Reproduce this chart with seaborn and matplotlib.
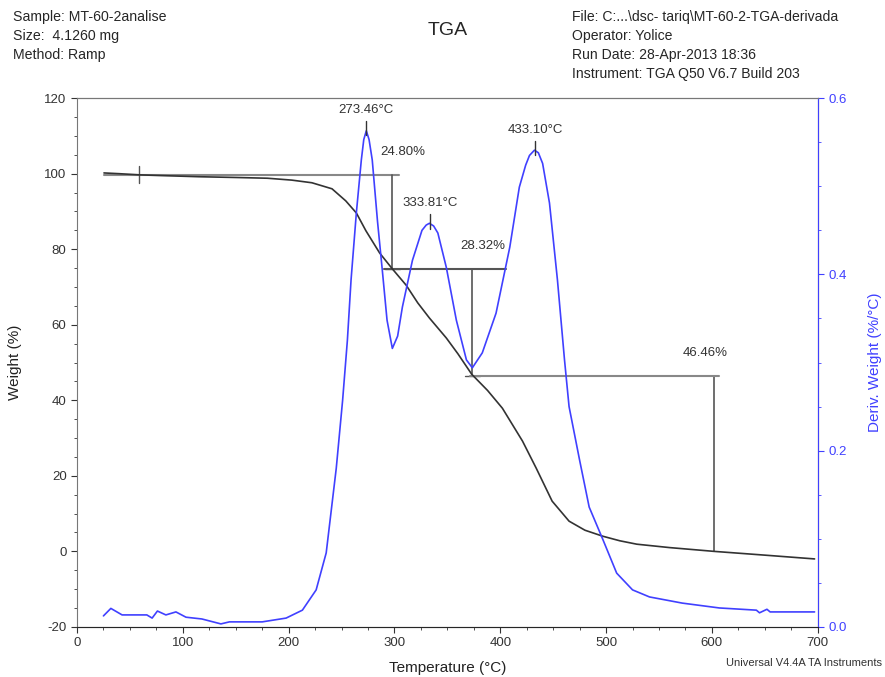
import numpy as np
import pandas as pd
import seaborn as sns
import matplotlib.pyplot as plt
from matplotlib.ticker import MultipleLocator, FormatStrFormatter

# Weight curve
temp_w = [25.5, 40, 58.6, 80, 115, 150, 180, 203, 222, 241, 254, 264, 273, 286,
          298, 311, 322, 333, 349, 360, 373, 388, 402, 421, 434, 449, 465, 480,
          497, 513, 529, 560, 602, 650, 697]
weight = [100.2, 100.0, 99.7, 99.5, 99.2, 99.0, 98.8, 98.3, 97.6, 96.0, 92.8, 89.6,
          84.9, 79.0, 74.8, 70.5, 65.8, 61.8, 56.5, 52.3, 46.9, 42.6, 37.9, 29.2,
          22.0, 13.3, 8.0, 5.6, 4.0, 2.8, 1.9, 1.0, 0.0, -1.0, -2.0]

# Derivative curve
temp_d = [25, 32, 42.6, 56, 66, 71, 76, 84, 93.5, 103, 118, 136, 144, 175, 197.6,
          213, 226, 235.5, 245, 251, 255.5, 259, 264, 268.7, 271, 273.4, 276, 279,
          284, 288.5, 293, 298, 303, 307.5, 317, 326, 330, 333, 337, 341, 349, 358.5,
          368, 373.6, 383, 396, 409, 418, 424, 427.6, 432.3, 436, 440, 446.5, 454,
          460.7, 465, 475, 484, 497, 510, 525, 541, 572, 607, 642, 645, 652, 655, 697]
deriv = [0.0125, 0.021, 0.0136, 0.0136, 0.0136, 0.010, 0.018, 0.0136, 0.017, 0.011,
         0.009, 0.0034, 0.0057, 0.0057, 0.010, 0.019, 0.042, 0.084, 0.18, 0.257,
         0.325, 0.394, 0.47, 0.53, 0.553, 0.563, 0.553, 0.53, 0.46, 0.405, 0.348,
         0.316, 0.33, 0.363, 0.416, 0.45, 0.456, 0.458, 0.455, 0.447, 0.408, 0.348,
         0.303, 0.294, 0.311, 0.356, 0.431, 0.499, 0.524, 0.535, 0.541, 0.538,
         0.526, 0.481, 0.394, 0.303, 0.25, 0.189, 0.136, 0.099, 0.061, 0.042, 0.034,
         0.027, 0.0215, 0.019, 0.016, 0.02, 0.017, 0.017]

# Peak labels (temperature, deriv value)
peak_t = [273.46, 333.81, 433.10]
peak_d = [0.564, 0.458, 0.541]

# Step changes: end T, start W, end W, label
step_end = [298.0, 373.6, 601.7]
step_w0 = [99.7, 74.8, 46.4]
step_w1 = [74.8, 46.4, 0.0]
step_lbl = ['24.80%', '28.32%', '46.46%']

sns.set_style('ticks')
plt.rcParams['font.family'] = ['Liberation Sans', 'DejaVu Sans']
plt.rcParams['axes.unicode_minus'] = False

blue = '#4040ff'
fig = plt.figure(figsize=(8.85, 6.77), dpi=100)
ax = fig.add_axes([0.087, 0.074, 0.837, 0.781])
ax2 = ax.twinx()

df_w = pd.DataFrame({'T': temp_w, 'W': weight})
df_d = pd.DataFrame({'T': temp_d, 'D': deriv})
sns.lineplot(data=df_d, x='T', y='D', ax=ax2, color=blue, lw=1.2)
sns.lineplot(data=df_w, x='T', y='W', ax=ax, color='#333333', lw=1.2, zorder=3)

ax.set_xlim(0, 700)
ax.set_ylim(-20, 120)
ax2.set_ylim(0, 0.6)

# step annotations
grey = '#888888'
dark = '#555555'
ax.plot([25.5, 304.6], [step_w0[0], step_w0[0]], color=grey, lw=1.5, zorder=2)
ax.plot([58.6, 58.6], [97.5, 102], color=dark, lw=1)
for i in range(3):
    t1 = step_end[i]
    w0 = step_w0[i]
    w1 = step_w1[i]
    ax.plot([t1, t1], [w1, w0], color=dark, lw=1.2, zorder=2)
    if i < 2:
        ax.plot([t1 - 7, t1 + 7], [w1, w1], color=dark, lw=1)
    ax.text(t1 + 10 if i < 2 else t1 - 8, w0 + 4.5, step_lbl[i], ha='center',
            va='bottom', fontsize=9.5, color='#333333')
ax.plot([290, 405.8], [74.8, 74.8], color=dark, lw=1.5, zorder=2)
ax.plot([371, 607], [46.4, 46.4], color=grey, lw=1.5, zorder=2)

# peak labels
for t, d in zip(peak_t, peak_d):
    ax2.plot([t, t], [d - 0.006, d + 0.01], color='#333333', lw=1)
    ax2.text(t, d + 0.016, f'{t:.2f}\u00b0C', ha='center', va='bottom',
             fontsize=9.5, color='#333333')

# axes styling
ax.xaxis.set_major_locator(MultipleLocator(100))
ax.xaxis.set_minor_locator(MultipleLocator(25))
ax.yaxis.set_major_locator(MultipleLocator(20))
ax.yaxis.set_minor_locator(MultipleLocator(5))
ax2.yaxis.set_major_locator(MultipleLocator(0.2))
ax2.yaxis.set_minor_locator(MultipleLocator(0.05))
ax2.yaxis.set_major_formatter(FormatStrFormatter('%.1f'))
ax.tick_params(which='both', direction='out', colors='#333333', labelsize=9.5)
ax.tick_params(which='major', length=4)
ax.tick_params(which='minor', length=2.5)
ax2.tick_params(which='both', direction='out', colors=blue, labelsize=9.5)
ax2.tick_params(which='major', length=4)
ax2.tick_params(which='minor', length=2.5)
for s in ['left', 'bottom', 'top']:
    ax.spines[s].set_color('#777777')
    ax.spines[s].set_visible(True)
ax2.spines['right'].set_color(blue)
ax2.spines['right'].set_visible(True)
ax2.spines['top'].set_visible(True)
ax2.spines['top'].set_color('#777777')
ax2.spines['left'].set_visible(False)

ax.set_xlabel('Temperature (\u00b0C)', fontsize=11, color='#222222')
ax.set_ylabel('Weight (%)', fontsize=11, color='#222222')
ax2.set_ylabel('Deriv. Weight (%/\u00b0C)', fontsize=11, color=blue)
ax.xaxis.set_label_coords(0.5, -0.065)
ax.yaxis.set_label_coords(-0.074, 0.5)
ax2.yaxis.set_label_coords(1.068, 0.5)

# header
fig.text(0.506, 0.955, 'TGA', ha='center', va='center', fontsize=14)
fig.text(0.015, 0.985, 'Sample: MT-60-2analise\nSize:  4.1260 mg\nMethod: Ramp',
         ha='left', va='top', fontsize=10.2, linespacing=1.45)
fig.text(0.646, 0.985, 'File: C:...\\dsc- tariq\\MT-60-2-TGA-derivada\n'
         'Operator: Yolice\nRun Date: 28-Apr-2013 18:36\n'
         'Instrument: TGA Q50 V6.7 Build 203',
         ha='left', va='top', fontsize=10.1, linespacing=1.45)
fig.text(0.997, 0.02, 'Universal V4.4A TA Instruments', ha='right', va='center',
         fontsize=8, color='#333333')

plt.savefig('out.png', dpi=100)
